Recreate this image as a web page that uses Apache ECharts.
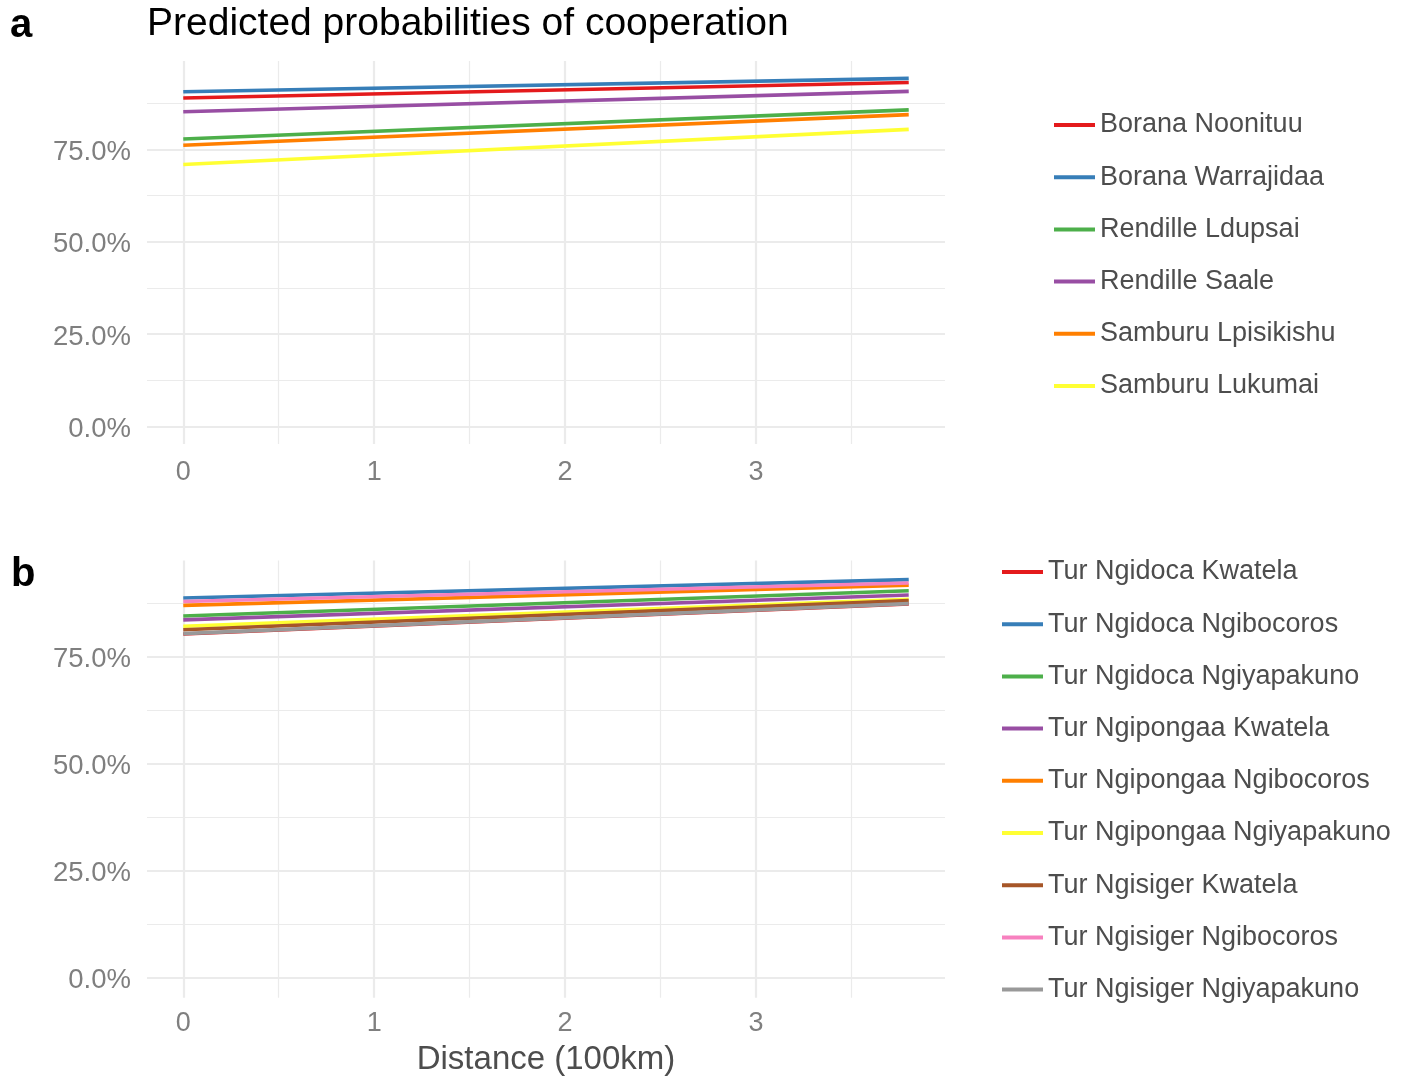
<!DOCTYPE html>
<html>
<head>
<meta charset="utf-8">
<script src="https://cdn.jsdelivr.net/npm/echarts@6/dist/echarts.min.js"></script>
<style>
html,body{margin:0;padding:0;background:#fff;}
#chart{width:1405px;height:1078px;}
</style>
</head>
<body>
<div id="chart"></div>
<script>
// ---- data ----
const distance = [0, 3.8]; // x (100km), start and end of each prediction line

const groupsA = ['Borana Noonituu', 'Borana Warrajidaa', 'Rendille Ldupsai', 'Rendille Saale', 'Samburu Lpisikishu', 'Samburu Lukumai'];
const startA = [0.889, 0.906, 0.778, 0.852, 0.761, 0.709];
const endA   = [0.931, 0.942, 0.857, 0.907, 0.844, 0.804];

const groupsB = ['Tur Ngidoca Kwatela', 'Tur Ngidoca Ngibocoros', 'Tur Ngidoca Ngiyapakuno', 'Tur Ngipongaa Kwatela', 'Tur Ngipongaa Ngibocoros', 'Tur Ngipongaa Ngiyapakuno', 'Tur Ngisiger Kwatela', 'Tur Ngisiger Ngibocoros', 'Tur Ngisiger Ngiyapakuno'];
const startB = [0.803, 0.887, 0.845, 0.836, 0.870, 0.821, 0.813, 0.879, 0.804];
const endB   = [0.873, 0.930, 0.904, 0.894, 0.917, 0.884, 0.881, 0.922, 0.874];

const xMajorTicks = [0, 1, 2, 3];
const xMinorTicks = [0.5, 1.5, 2.5, 3.5];
const yMajorTicks = [0, 0.25, 0.5, 0.75];
const yMinorTicks = [0.125, 0.375, 0.625, 0.875];

const titleText = 'Predicted probabilities of cooperation';
const xTitle = 'Distance (100km)';

// ---- styling ----
const colorsA = ['#E41A1C', '#377EB8', '#4DAF4A', '#984EA3', '#FF7F00', '#FFFF33'];
const colorsB = ['#E41A1C', '#377EB8', '#4DAF4A', '#984EA3', '#FF7F00', '#FFFF33', '#A65628', '#F781BF', '#999999'];
const FONT = '"Liberation Sans", Arial, Helvetica, sans-serif';
const GRID = '#ebebeb';
const TICKCOL = '#7f7f7f';

const xMin = -0.19, xMax = 3.99;
const yRangeA = [-0.0471, 0.9891];
const yRangeB = [-0.0466, 0.9745];

function xAxes(gridIndex, margin) {
  return [
    { type: 'value', gridIndex, min: xMin, max: xMax,
      axisLine: {show: false}, axisTick: {show: false, customValues: xMajorTicks},
      axisLabel: {customValues: xMajorTicks, color: TICKCOL, fontSize: 27, fontFamily: FONT, margin: margin, formatter: v => String(v)},
      splitLine: {show: true, lineStyle: {color: GRID, width: 2.2}} },
    { type: 'value', gridIndex, min: xMin, max: xMax,
      axisLine: {show: false}, axisTick: {show: false, customValues: xMinorTicks},
      axisLabel: {show: false},
      splitLine: {show: true, lineStyle: {color: GRID, width: 1.2}} }
  ];
}
function yAxes(gridIndex, range) {
  return [
    { type: 'value', gridIndex, min: range[0], max: range[1],
      axisLine: {show: false}, axisTick: {show: false, customValues: yMajorTicks},
      axisLabel: {customValues: yMajorTicks, color: TICKCOL, fontSize: 27.5, fontFamily: FONT, margin: 16,
        formatter: v => '{t|' + (v * 100).toFixed(1) + '%}',
        rich: {t: {color: TICKCOL, fontSize: 27.5, fontFamily: FONT, padding: [6, 0, 0, 0]}}},
      splitLine: {show: true, lineStyle: {color: GRID, width: 2.2}} },
    { type: 'value', gridIndex, min: range[0], max: range[1],
      axisLine: {show: false}, axisTick: {show: false, customValues: yMinorTicks},
      axisLabel: {show: false},
      splitLine: {show: true, lineStyle: {color: GRID, width: 1.2}} }
  ];
}

function makeSeries(names, starts, ends, colors, xi, yi) {
  return names.map((n, i) => ({
    name: n, type: 'line', xAxisIndex: xi, yAxisIndex: yi,
    data: [[distance[0], starts[i]], [distance[1], ends[i]]],
    showSymbol: false, symbol: 'none', silent: true,
    lineStyle: {color: colors[i], width: 3.6},
    itemStyle: {color: colors[i]}
  }));
}

const legendBase = {
  orient: 'vertical', icon: 'rect', itemWidth: 41, itemHeight: 4, padding: 0,
  itemGap: 22.2, selectedMode: false,
  textStyle: {fontSize: 27, fontFamily: FONT, color: '#4d4d4d', lineHeight: 30}
};

const chart = echarts.init(document.getElementById('chart'), null, {renderer: 'canvas'});
chart.setOption({
  animation: false,
  backgroundColor: '#ffffff',
  grid: [
    {left: 147, top: 61, width: 798, height: 383},
    {left: 147, top: 560.6, width: 798, height: 437.1}
  ],
  xAxis: [...xAxes(0, 15), ...xAxes(1, 12)],
  yAxis: [...yAxes(0, yRangeA), ...yAxes(1, yRangeB)],
  legend: [
    Object.assign({}, legendBase, {left: 1054, top: 110, data: groupsA}),
    Object.assign({}, legendBase, {left: 1002, top: 557, data: groupsB})
  ],
  series: [
    ...makeSeries(groupsA, startA, endA, colorsA, 0, 0),
    ...makeSeries(groupsB, startB, endB, colorsB, 2, 2)
  ],
  graphic: [
    {type: 'text', left: 10, top: 6, style: {text: 'a', font: 'bold 40px ' + FONT, fill: '#000'}},
    {type: 'text', left: 147, top: 5, style: {text: titleText, font: '39px ' + FONT, fill: '#000'}},
    {type: 'text', left: 11, top: 555, style: {text: 'b', font: 'bold 40px ' + FONT, fill: '#000'}},
    {type: 'text', x: 546, y: 1060, style: {text: xTitle, font: '33px ' + FONT, fill: '#4d4d4d', align: 'center', verticalAlign: 'middle'}}
  ]
});
</script>
</body>
</html>
